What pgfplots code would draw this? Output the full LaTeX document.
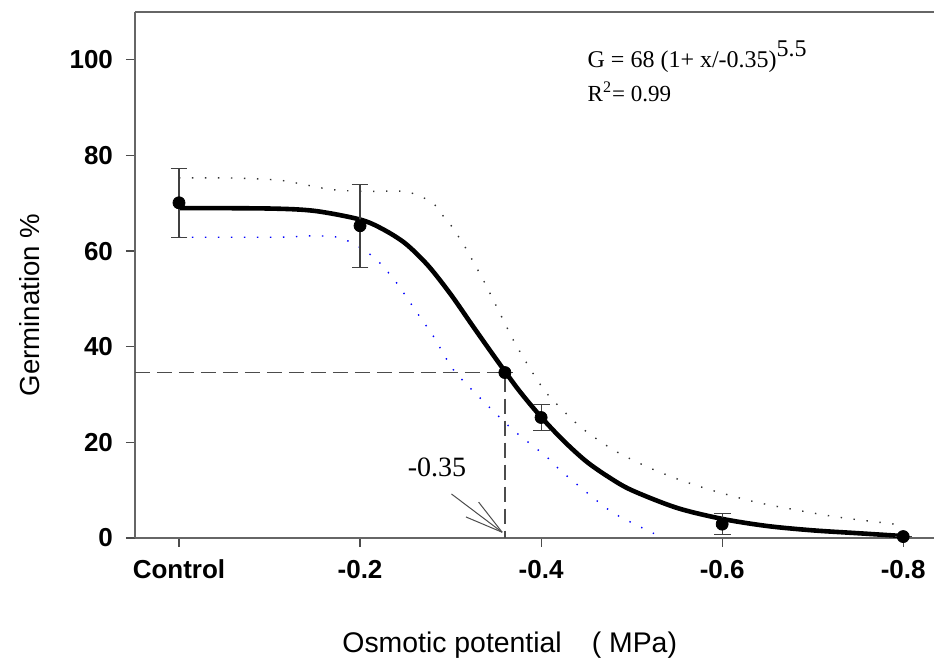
\documentclass[border=0pt]{standalone}
\usepackage{pgfplots}
\pgfplotsset{compat=1.18}
\usepackage{fontspec}
\setmainfont{Liberation Sans}
\newfontfamily\timesfont{Liberation Serif}

% germination data (x = magnitude of osmotic potential)
\pgfplotstableread{
x     y     e
0     70.1  7.2
0.2   65.3  8.7
0.36  34.6  0
0.4   25.2  2.8
0.6   2.9   2.2
0.8   0.3   0
}\germ

\begin{document}
\begin{tikzpicture}
\path[use as bounding box] (-67.5pt,-65.5pt) rectangle (399.5pt,269pt);
\begin{axis}[
  at={(0,0)}, anchor=south west,
  scale only axis, width=399.5pt, height=263pt,
  xmin=-0.0486, xmax=0.834, ymin=0, ymax=110,
  clip=false,
  axis x line=box, axis y line=left,
  axis line style={-, draw=black!60, line width=0.8pt},
  xtick={0,0.2,0.4,0.6,0.8}, xticklabels={Control,-0.2,-0.4,-0.6,-0.8},
  ytick={0,20,40,60,80,100}, yticklabels={0,20,40,60,80,100},
  xtick pos=left, ytick pos=left,
  tick align=outside, major tick length=4.5pt,
  tick style={black!70, line width=0.6pt},
  ticklabel style={font=\fontsize{13}{15}\selectfont\bfseries},
  xticklabel style={yshift=-3pt},
  yticklabel style={xshift=-3pt},
  xlabel={Osmotic potential\hspace{15pt}( MPa)},
  ylabel={Germination \%},
  xlabel style={at={(axis description cs:0.469,-0.2034)}, anchor=center, font=\fontsize{14.2}{16}\selectfont},
  ylabel style={at={(axis description cs:-0.1314,0.443)}, anchor=center, font=\fontsize{13.8}{16}\selectfont},
]
% upper confidence band
\addplot[black!80, line width=0.7pt, dash pattern=on 0.7pt off 5.8pt, smooth, tension=0.4] coordinates {
(0,75.3) (0.056,75.3) (0.112,74.8) (0.167,72.9) (0.204,72.5) (0.248,72.5) (0.266,71.5)
(0.281,70.0) (0.292,67.3) (0.3,65.5) (0.314,61.5) (0.325,57.8) (0.336,54.0) (0.344,51.0)
(0.355,46.8) (0.369,41.5) (0.384,36.6) (0.406,30.3) (0.443,23.3) (0.48,18.4) (0.517,14.9)
(0.554,12.1) (0.59,9.9) (0.642,7.3) (0.723,4.5) (0.8,2.7)
};
% lower confidence band
\addplot[blue, line width=0.7pt, dash pattern=on 0.7pt off 5.8pt, smooth, tension=0.4] coordinates {
(0,62.9) (0.11,62.9) (0.148,63.2) (0.178,62.8) (0.204,60.3) (0.222,57.5) (0.241,53.2)
(0.263,47.1) (0.281,42.2) (0.303,35.2) (0.333,29.2) (0.369,22.6) (0.406,17.0) (0.421,14.2)
(0.443,10.7) (0.48,5.2) (0.535,0)
};
% fitted curve
\addplot[black, line width=2.3pt, smooth, tension=0.5] coordinates {
(0,69.0) (0.1,68.9) (0.15,68.4) (0.2,66.6) (0.225,64.6) (0.25,61.6) (0.275,57.0)
(0.3,51.0) (0.325,44.2) (0.35,37.5) (0.375,31.0) (0.4,25.3) (0.425,20.3) (0.45,16.0)
(0.475,12.7) (0.5,10.0) (0.55,6.3) (0.6,4.0) (0.65,2.5) (0.7,1.6) (0.75,1.0) (0.8,0.4)
};
% reference lines at G50
\addplot[black!70, line width=0.7pt, dash pattern=on 7.5pt off 3.5pt] coordinates {
(-0.0486,34.6) (0.36,34.6) (0.36,0)
};
% observed means with error bars
\addplot[only marks, mark=*, mark size=3pt, black,
  error bars/.cd, y dir=both, y explicit,
  error bar style={black!75, line width=0.6pt},
  error mark options={rotate=90, mark size=4.2pt, black!75, line width=0.6pt}]
  table[x=x, y=y, y error=e] {\germ};
% arrow pointing at -0.35
\draw[black!70, line width=0.5pt] (axis cs:0.301,9.2) -- (axis cs:0.357,1.2);
\draw[black!70, line width=0.5pt] (axis cs:0.331,7.5) -- (axis cs:0.357,1.2);
\draw[black!70, line width=0.5pt] (axis cs:0.317,4.4) -- (axis cs:0.357,1.2);
\node[font=\timesfont\fontsize{14}{16}\selectfont] at (axis cs:0.285,14.7) {-0.35};
\node[anchor=base west, font=\timesfont\fontsize{12}{14}\selectfont, inner sep=0pt] at (axis cs:0.451,98.4) {G = 68 (1+ x/-0.35)\raisebox{0.45em}{5.5}};
\node[anchor=base west, font=\timesfont\fontsize{11.5}{13}\selectfont, inner sep=0pt] at (axis cs:0.451,91.3) {R\textsuperscript{2}= 0.99};
\end{axis}
\end{tikzpicture}
\end{document}
